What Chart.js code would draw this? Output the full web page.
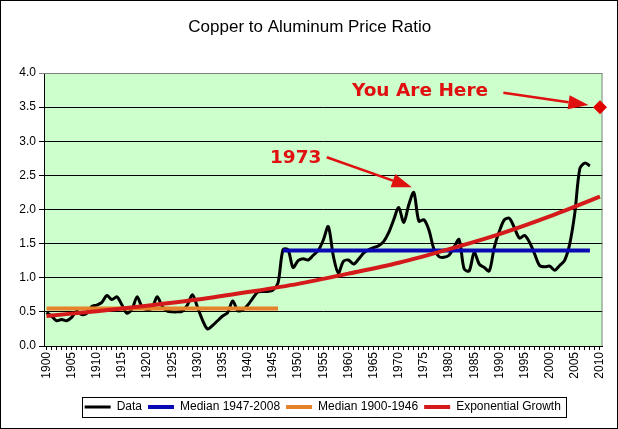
<!DOCTYPE html>
<html lang="en">
<head>
<meta charset="UTF-8">
<title>Copper to Aluminum Price Ratio</title>
<script src="https://cdn.jsdelivr.net/npm/chart.js"></script>
<style>
  * { margin:0; padding:0; box-sizing:border-box; }
  body { background:#fff; width:618px; height:429px; overflow:hidden; }
  .wrap { width:618px; height:429px; border:1px solid #000; }
  canvas { display:block; }
</style>
</head>
<body>
<div class="wrap"><canvas id="ratioChart" width="616" height="427"></canvas></div>
<script>
  // ratio, one value per year from 1900
  const firstYear = 1900;
  const ratio = [
    0.49, 0.44, 0.37, 0.39, 0.37, 0.42, 0.51, 0.46, 0.48, 0.58,   // 1900s
    0.60, 0.64, 0.74, 0.68, 0.72, 0.60, 0.48, 0.54, 0.72, 0.57,   // 1910s
    0.53, 0.56, 0.72, 0.58, 0.51, 0.50, 0.50, 0.51, 0.60, 0.75,   // 1920s
    0.57, 0.38, 0.25, 0.30, 0.37, 0.44, 0.49, 0.66, 0.52, 0.53,   // 1930s
    0.60, 0.70, 0.79, 0.80, 0.80, 0.82, 0.92, 1.41, 1.41, 1.15,   // 1940s
    1.25, 1.28, 1.26, 1.33, 1.40, 1.55, 1.75, 1.32, 1.07, 1.24,   // 1950s
    1.26, 1.20, 1.27, 1.36, 1.41, 1.44, 1.47, 1.53, 1.66, 1.85,   // 1960s
    2.03, 1.81, 2.07, 2.25, 1.83, 1.85, 1.70, 1.42, 1.31, 1.30,   // 1970s
    1.33, 1.45, 1.56, 1.13, 1.10, 1.37, 1.20, 1.15, 1.10, 1.45,   // 1980s
    1.68, 1.85, 1.87, 1.73, 1.58, 1.62, 1.52, 1.35, 1.18, 1.16,   // 1990s
    1.17, 1.11, 1.18, 1.26, 1.50, 1.95, 2.60, 2.68, 2.64          // 2000-2008
  ];

  const medianLateYears = [1947, 2008];
  const medianLate = [1.40, 1.40];
  const medianEarlyYears = [1900, 1946];
  const medianEarly = [0.55, 0.55];

  const growthYears = [1900, 1910, 1920, 1930, 1940, 1950, 1960, 1970, 1980, 1990, 2000, 2010];
  const growth = [0.44, 0.51, 0.59, 0.68, 0.79, 0.91, 1.06, 1.22, 1.42, 1.64, 1.90, 2.19];

  const hereYear = [2010];
  const hereValue = [3.5];

  const labels = ['Data', 'Median 1947-2008', 'Median 1900-1946', 'Exponential Growth'];
  const yTicks = [0, 0.5, 1, 1.5, 2, 2.5, 3, 3.5, 4];

  // text notes and arrows, anchored in data units
  const notes = [
    { text: 'You Are Here', x: 1960.7, y: 3.735 },
    { text: '1973', x: 1944.4, y: 2.75 }
  ];
  const arrows = [
    { from: [1990.8, 3.71], to: [2007.7, 3.53] },
    { from: [1955.7, 2.765], to: [1972.6, 2.325] }
  ];

  const pts = (xs, ys) => ys.map((v, i) => ({ x: xs[i], y: v }));
  const dataPts = ratio.map((v, i) => ({ x: firstYear + i, y: v }));

  const plotFrame = {
    id: 'plotFrame',
    afterLayout(chart) {
      // title centred on the whole canvas, legend nudged right like the original
      const t = chart.titleBlock, l = chart.legend;
      if (t) { t.left += 8; t.right += 8; }
      if (l) { l.left += 21; l.right += 21; }
    },
    beforeDraw(chart) {
      const a = chart.chartArea, c = chart.ctx;
      c.save();
      c.fillStyle = '#CCFFCC';
      c.fillRect(a.left, a.top, a.right - a.left, a.bottom - a.top);
      c.restore();
    },
    beforeDatasetsDraw(chart) {
      const a = chart.chartArea, c = chart.ctx;
      c.save();
      c.strokeStyle = '#808080';
      c.lineWidth = 1;
      c.beginPath();
      c.moveTo(a.left, a.top + 0.5);
      c.lineTo(a.right - 0.5, a.top + 0.5);
      c.lineTo(a.right - 0.5, a.bottom);
      c.stroke();
      c.restore();
    }
  };

  const notesPlugin = {
    id: 'notes',
    afterDatasetsDraw(chart) {
      const c = chart.ctx, xs = chart.scales.x, ys = chart.scales.y;
      c.save();
      c.fillStyle = '#E01010';
      c.strokeStyle = '#E01010';
      c.font = 'bold 18.5px "DejaVu Sans", sans-serif';
      c.textBaseline = 'middle';
      notes.forEach(n => c.fillText(n.text, xs.getPixelForValue(n.x), ys.getPixelForValue(n.y)));
      arrows.forEach(ar => {
        const x1 = xs.getPixelForValue(ar.from[0]), y1 = ys.getPixelForValue(ar.from[1]);
        const x2 = xs.getPixelForValue(ar.to[0]), y2 = ys.getPixelForValue(ar.to[1]);
        const ang = Math.atan2(y2 - y1, x2 - x1);
        const len = 20, half = 7;
        const bx = x2 - len * Math.cos(ang), by = y2 - len * Math.sin(ang);
        c.lineWidth = 2.5;
        c.beginPath();
        c.moveTo(x1, y1);
        c.lineTo(bx, by);
        c.stroke();
        c.beginPath();
        c.moveTo(x2, y2);
        c.lineTo(bx + half * Math.sin(ang), by - half * Math.cos(ang));
        c.lineTo(bx - half * Math.sin(ang), by + half * Math.cos(ang));
        c.closePath();
        c.fill();
      });
      c.restore();
    }
  };

  const legendBox = {
    id: 'legendBox',
    afterDraw(chart) {
      const boxes = chart.legend && chart.legend.legendHitBoxes;
      if (!boxes || !boxes.length) return;
      const left = Math.min(...boxes.map(b => b.left)) - 3;
      const right = Math.max(...boxes.map(b => b.left + b.width)) + 5;
      const top = Math.min(...boxes.map(b => b.top)) - 4;
      const bottom = Math.max(...boxes.map(b => b.top + b.height)) + 4;
      const c = chart.ctx;
      c.save();
      c.strokeStyle = '#000';
      c.lineWidth = 1;
      c.strokeRect(Math.round(left) + 0.5, Math.round(top) + 0.5, Math.round(right - left), Math.round(bottom - top));
      c.restore();
    }
  };

  const font = 'Arial, "Liberation Sans", sans-serif';

  new Chart(document.getElementById('ratioChart'), {
    type: 'line',
    data: {
      datasets: [
        { label: labels[0], data: dataPts, borderColor: '#000', borderWidth: 3, tension: 0.3, order: 4 },
        { label: labels[1], data: pts(medianLateYears, medianLate), borderColor: '#0A0AB4', borderWidth: 4, order: 3 },
        { label: labels[2], data: pts(medianEarlyYears, medianEarly), borderColor: '#E6822A', borderWidth: 4, order: 2 },
        { label: labels[3], data: pts(growthYears, growth), borderColor: '#D41A1A', borderWidth: 4, tension: 0.3, order: 1 },
        { label: '', data: pts(hereYear, hereValue), showLine: false, pointStyle: 'rectRot',
          pointRadius: 7, backgroundColor: '#E00000', borderColor: '#E00000', borderWidth: 0, clip: false, order: 0 }
      ]
    },
    options: {
      responsive: false,
      animation: false,
      elements: { point: { radius: 0 }, line: { borderCapStyle: 'butt' } },
      layout: { padding: { left: 0, right: 14.5, top: 0, bottom: 5 } },
      plugins: {
        title: {
          display: true,
          text: 'Copper to Aluminum Price Ratio',
          color: '#000',
          font: { family: font, size: 17, weight: 'normal' },
          padding: { top: 15.8, bottom: 35.8 }
        },
        legend: {
          position: 'bottom',
          labels: {
            color: '#000',
            font: { family: font, size: 12 },
            usePointStyle: true,
            pointStyle: 'line',
            pointStyleWidth: 26,
            padding: 6,
            filter: item => item.text !== '',
            sort: (a, b) => a.datasetIndex - b.datasetIndex
          }
        },
        tooltip: { enabled: false }
      },
      scales: {
        x: {
          type: 'linear',
          min: 1899.5,
          max: 2010.5,
          afterBuildTicks: s => {
            const t = [];
            for (let y = 1900; y <= 2010; y++) t.push({ value: y });
            s.ticks = t;
          },
          afterFit: s => { s.height = 49; },
          ticks: {
            autoSkip: false,
            maxRotation: 90,
            minRotation: 90,
            padding: 2,
            color: '#000',
            font: { family: font, size: 12 },
            callback: v => (v % 5 === 0 ? String(v) : '')
          },
          grid: { drawOnChartArea: false, tickLength: 4, color: '#000' },
          border: { color: '#000', width: 1 }
        },
        y: {
          min: 0,
          max: 4,
          afterBuildTicks: s => { s.ticks = yTicks.map(v => ({ value: v })); },
          afterFit: s => { s.width = 43; },
          ticks: {
            padding: 3,
            color: '#000',
            font: { family: font, size: 12 },
            callback: v => Number(v).toFixed(1)
          },
          grid: {
            color: ctx => (ctx.tick && ctx.tick.value === 4 ? '#808080' : '#000'),
            lineWidth: 1,
            tickLength: 5
          },
          border: { color: '#000', width: 1 }
        }
      }
    },
    plugins: [plotFrame, notesPlugin, legendBox]
  });
</script>
</body>
</html>
